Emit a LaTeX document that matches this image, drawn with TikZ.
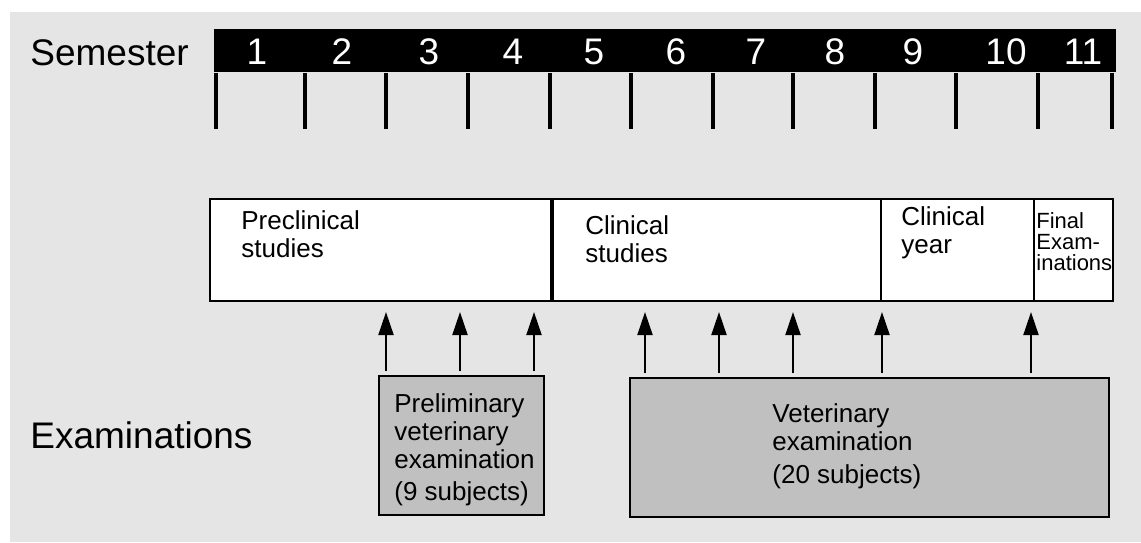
\documentclass[tikz,border=0pt]{standalone}
\usepackage{fontspec}
\setmainfont{Liberation Sans}
\usepackage{tikz}
\usetikzlibrary{arrows.meta}

\definecolor{bggray}{gray}{0.898}
\definecolor{examgray}{gray}{0.753}

\begin{document}
\begin{tikzpicture}[x=0.5pt,y=-0.5pt]
        \tikzset{bigtext/.style = {font=\fontsize{18.5}{22}\selectfont, inner sep=0pt, anchor=base west}}
        \tikzset{num/.style = {font=\fontsize{18.5}{22}\selectfont, text=white, inner sep=0pt, anchor=base}}
        \tikzset{midtext/.style = {font=\fontsize{13}{14}\selectfont, align=left, inner sep=0pt, anchor=base west}}
        \tikzset{smalltext/.style = {font=\fontsize{11}{10.5}\selectfont, align=left, inner sep=0pt, anchor=base west}}
        \tikzset{phase/.style = {draw, fill=white, line width=1pt, anchor=north west, minimum height=51pt, inner sep=0pt}}
        \tikzset{exam/.style = {draw, fill=examgray, line width=1pt, anchor=north west, minimum height=69.5pt, inner sep=0pt}}
        \tikzset{tick/.style = {line width=1.6pt}}
        \tikzset{edge/.style = {-{Triangle[length=11.5pt,width=7.5pt]}, line width=1pt, shorten >=5pt, shorten <=2pt}}
        \useasboundingbox (0,0) rectangle (1141,542);
        \fill[bggray] (10,12) rectangle (1141,542);
        % semesters
        \node[bigtext] (sem) at (30,65) {Semester};
        \node[fill=black, anchor=north west, minimum width=451pt, minimum height=21.5pt, inner sep=0pt] (bar) at (214,29) {};
        \foreach \n/\x in {1/257,2/342,3/429,4/513,5/594,6/676,7/756,8/835,9/913,10/1006,11/1083}
            \node[num] (s\n) at (\x,64) {\n};
        \foreach \x in {216,305,386,468,550,631,713,793,875,956,1038,1112}
            \draw[tick] (bar.south -| \x,0) -- (\x,129);
        % phases
        \node[phase, minimum width=170.5pt] (pre) at (209,198) {};
        \node[phase, minimum width=165pt] (cs) at (550,198) {};
        \node[phase, minimum width=76.5pt] (cy) at (880,198) {};
        \node[phase, minimum width=39.5pt] (fe) at (1033,198) {};
        \draw[line width=1.6pt] (pre.north east) -- (pre.south east);
        \node[midtext] (tpre) at (241,257) {Preclinical\\studies};
        \node[midtext] (tcs) at (585,262) {Clinical\\studies};
        \node[midtext] (tcy) at (901,253) {Clinical\\year};
        \node[smalltext] (tfe) at (1036,270) {Final\\Exam-\\inations};
        % examinations
        \node[bigtext] (exams) at (30,448) {Examinations};
        \node[exam, minimum width=82.5pt] (pve) at (378,375) {};
        \node[exam, minimum width=239.5pt] (ve) at (629,377) {};
        \node[midtext] (tpve) at (394,500) {Preliminary\\veterinary\\examination\\[2pt](9 subjects)};
        \node[midtext] (tve) at (772,483) {Veterinary\\examination\\[2.5pt](20 subjects)};
        %edges
        \foreach \x in {386,460,534}
            \draw[edge] (pve.north -| \x,0) -- (pre.south -| \x,0);
        \foreach \x in {645,719,793,882,1031}
            \draw[edge] (ve.north -| \x,0) -- (cs.south -| \x,0);

\end{tikzpicture}
\end{document}
